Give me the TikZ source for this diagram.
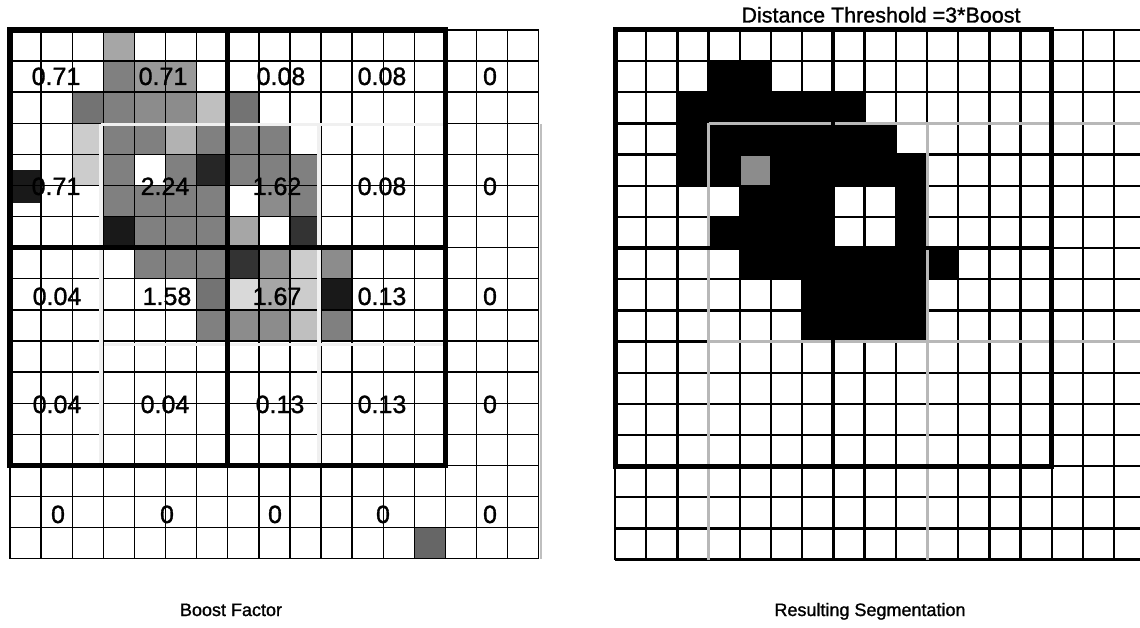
\documentclass[tikz,border=0pt]{standalone}
\usepackage{fontspec}
\setmainfont{Liberation Sans}[FakeBold=1.2]
\begin{document}
\begin{tikzpicture}[x=1pt,y=-1pt,
  lthin/.style={line width=1.4pt,black},
  lthick/.style={line width=5.5pt,black,line cap=rect},
  lshift/.style={line width=3.5pt,black!6},
  rthin/.style={line width=2.3pt,black},
  rthick/.style={line width=5pt,black,line cap=rect},
  rshift/.style={line width=3pt,black!28},
  lab/.style={font=\fontsize{25}{25}\selectfont,inner sep=0pt,anchor=base},
  captxt/.style={font=\fontsize{18}{18}\selectfont,inner sep=0pt,anchor=base},
  ttl/.style={font=\fontsize{21.5}{22}\selectfont,inner sep=0pt,anchor=base}]
\useasboundingbox (0,0) rectangle (1140,628);
\fill[white] (0,0) rectangle (1140,628);
% ---------------- left grid: shaded cells ----------------
\foreach \c/\r/\s in {3/0/35, 3/1/50, 4/1/40, 5/1/40,
  2/2/55, 3/2/50, 4/2/45, 5/2/45, 6/2/25, 7/2/55,
  2/3/20, 3/3/50, 4/3/50, 5/3/30, 6/3/50, 7/3/50, 8/3/50,
  2/4/20, 3/4/50, 5/4/50, 6/4/85, 7/4/50, 8/4/50, 9/4/50,
  3/5/50, 4/5/50, 5/5/50, 6/5/50, 8/5/45, 9/5/50,
  3/6/90, 4/6/50, 5/6/50, 6/6/50, 7/6/35, 9/6/80,
  4/7/50, 5/7/50, 6/7/50, 7/7/80, 8/7/45, 9/7/20, 10/7/45,
  6/8/55, 7/8/15, 8/8/35, 9/8/20, 10/8/90,
  6/9/50, 7/9/45, 8/9/45, 9/9/25, 10/9/50, 13/16/60}
  \fill[black!\s] ({10+31.1*\c},{30+31.1*\r}) rectangle +(31.1,31.1);
\fill[black!90] (12,170) rectangle (41,203);
% thin grid
\foreach \i in {0,...,17} {
  \draw[lthin] ({10+31.1*\i},30) -- ({10+31.1*\i},558.7);
  \draw[lthin] (10,{30+31.1*\i}) -- (538.7,{30+31.1*\i});
}
% shifted (light) block lines
\draw[lshift] (101,124.5) -- (445,124.5);
\draw[lshift] (101,124.5) -- (101,465);
\draw[lshift] (319,124.5) -- (319,465);
\draw[lshift] (104,344.5) -- (445,344.5);
\draw[line width=2.5pt,black!25] (541,124.5) -- (541,558.7);
% thick block lines
\draw[lthick] (10,30) rectangle (445.4,465.4);
\draw[lthick] (227.7,30) -- (227.7,465.4);
\draw[lthick] (10,247.7) -- (445.4,247.7);
% labels
\node[lab] (a1) at (56,85) {0.71};
\node[lab] (a2) at (163,85) {0.71};
\node[lab] (a3) at (281,85) {0.08};
\node[lab] (a4) at (382,85) {0.08};
\node[lab] (a5) at (490,85) {0};
\node[lab] (b1) at (56,195) {0.71};
\node[lab] (b2) at (165,195) {2.24};
\node[lab] (b3) at (277,195) {1.62};
\node[lab] (b4) at (382,195) {0.08};
\node[lab] (b5) at (490,195) {0};
\node[lab] (c1) at (57,305) {0.04};
\node[lab] (c2) at (167,305) {1.58};
\node[lab] (c3) at (277,305) {1.67};
\node[lab] (c4) at (382,305) {0.13};
\node[lab] (c5) at (490,305) {0};
\node[lab] (d1) at (57,413) {0.04};
\node[lab] (d2) at (165,413) {0.04};
\node[lab] (d3) at (280,413) {0.13};
\node[lab] (d4) at (382,413) {0.13};
\node[lab] (d5) at (490,413) {0};
\node[lab] (e1) at (58,523) {0};
\node[lab] (e2) at (167,523) {0};
\node[lab] (e3) at (275,523) {0};
\node[lab] (e4) at (383,523) {0};
\node[lab] (e5) at (490,523) {0};
% ---------------- right grid ----------------
\begin{scope}
\clip (600,20) rectangle (1140,570);
\foreach \c/\r in {3/1,4/1,
  2/2,3/2,4/2,5/2,6/2,7/2,
  2/3,3/3,4/3,5/3,6/3,7/3,8/3,
  2/4,3/4,5/4,6/4,7/4,8/4,9/4,
  4/5,5/5,6/5,9/5,
  3/6,4/6,5/6,6/6,9/6,
  4/7,5/7,6/7,7/7,8/7,9/7,10/7,
  6/8,7/8,8/8,9/8,
  6/9,7/9,8/9,9/9}
  \fill[black] ({615+31.2*\c},{30+31.15*\r}) rectangle +(31.2,31.15);
\fill[black!45] ({615+31.2*4},{30+31.15*4}) rectangle +(31.2,31.15);
\foreach \i in {0,...,17} {
  \draw[rthin] ({615+31.2*\i},30) -- ({615+31.2*\i},559.5);
  \draw[rthin] (615,{30+31.15*\i}) -- (1145,{30+31.15*\i});
}
\draw[rshift] (708.6,123.5) -- (1145,123.5);
\draw[rshift] (708.6,123.5) -- (708.6,559.5);
\draw[rshift] (927,123.5) -- (927,559.5);
\draw[rshift] (708.6,341.5) -- (1145,341.5);
\draw[rthick] (615,30) rectangle (1051.8,466.1);
\draw[line width=4pt] (833.4,30) -- (833.4,466.1);
\draw[line width=4pt] (615,248) -- (1051.8,248);
\end{scope}
% titles and captions
\node[ttl] (title) at (881,22.5) {Distance Threshold =3*Boost};
\node[captxt] (capL) at (231,616) {Boost Factor};
\node[captxt] (capR) at (870,616) {Resulting Segmentation};
\end{tikzpicture}
\end{document}
